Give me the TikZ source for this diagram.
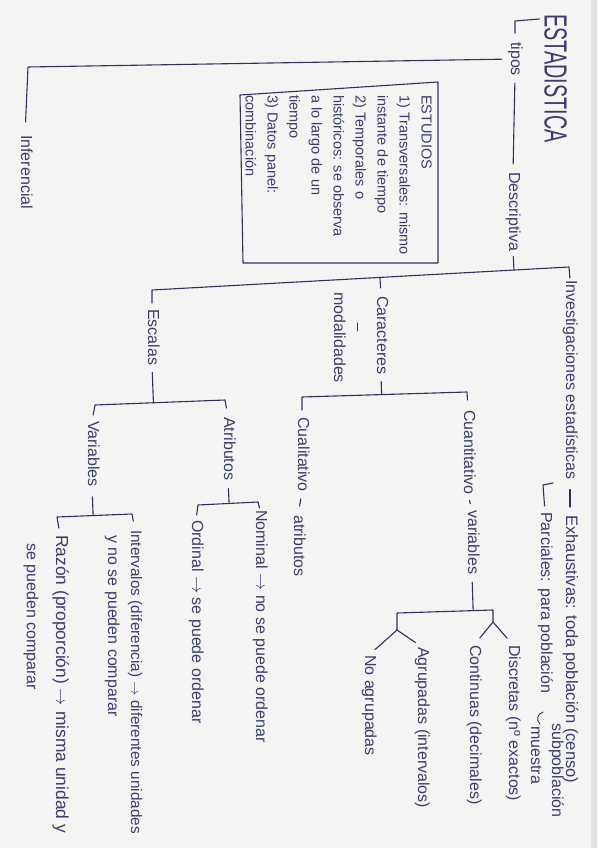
\documentclass[tikz,border=0pt]{standalone}
\usepackage{fontspec}
\setmainfont{Liberation Sans}
\usetikzlibrary{calc}
\definecolor{inkc}{RGB}{46,50,96}
\definecolor{txtc}{RGB}{58,62,108}
\definecolor{paper}{RGB}{244,244,242}
\definecolor{edge}{RGB}{226,226,224}
\begin{document}
\begin{tikzpicture}[x=1pt,y=-1pt,
  ink/.style={draw=inkc,line width=1.1pt,line cap=round,line join=round},
  lbl/.style={rotate=-90,anchor=west,inner sep=0pt,text=txtc,
    font=\fontsize{16}{19}\selectfont,text height=12pt,text depth=4pt},
  boxtxt/.style={rotate=-90,anchor=north west,inner sep=0pt,align=left,
    text=txtc,font=\fontsize{14.5}{22}\selectfont}
]
\useasboundingbox (0,0) rectangle (597,848);
\fill[paper] (0,0) rectangle (597,848);
\fill[edge] (591,0) rectangle (597,848);

% ---------- title and top level ----------
\node[lbl,font=\fontsize{32}{32}\selectfont,text height=23pt,text depth=0pt] (title) at (556,14) {\scalebox{0.62}[1]{ESTADISTICA}};
\node[lbl] (tipos) at (515,42) {tipos};
\node[lbl] (infer) at (25,135) {Inferencial};
\node[lbl] (desc) at (513,172) {Descriptiva};

\draw[ink] ($(title.south west)+(-5,5)$) -- (515,21) -- ($(tipos.west)+(0,-9)$);
\draw[ink, shorten <=5pt, shorten >=13pt] (tipos.south) -- (28,67) -- (infer.west);
\draw[ink, shorten <=7pt, shorten >=8pt] (tipos.east) -- (desc.west);

% ---------- box ----------
\draw[ink] (240,95) -- (438,82) -- (438,263) -- (243,263) -- cycle;
\node[boxtxt] (estud) at (432,95) {ESTUDIOS\\1) Transversales: mismo\\instante de tiempo\\2) Temporales o\\históricos: se observa\\a lo largo de un\\tiempo\\3) Datos panel:\\combinación};

% ---------- second level ----------
\node[lbl] (inv) at (570,280) {Investigaciones estadísticas};
\node[lbl,font=\fontsize{16.6}{19}\selectfont] (exh) at (570,515) {Exhaustivas: toda población (censo)};
\node[lbl] (parc) at (545,512) {Parciales: para población};
\node[lbl] (subp) at (556,723) {subpoblación};
\node[lbl] (mues) at (535,726) {muestra};
\node[lbl] (car) at (381,296) {Caracteres};
\node[lbl] (modal) at (338,292) {modalidades};
\node[lbl] (esc) at (152,309) {Escalas};

\coordinate (mbL) at (152,290);
\coordinate (mbR) at (569,267);
\draw[ink, shorten <=6pt, shorten >=2pt] (esc.west) -- (mbL) -- (mbR) -- (inv.west);
\draw[ink, shorten <=5pt] (desc.east) -- ($(mbL)!(desc.east)!(mbR)$);
\draw[ink, shorten <=8pt] (car.west) -- ($(mbL)!(car.west)!(mbR)$);
\draw[ink, shorten <=10pt, shorten >=8pt] (inv.east) -- (exh.west);
\draw[ink, shorten >=6pt] (553,483) -- (543,485) -- (parc.west);
\draw[ink, line width=0.9pt] (543,712) .. controls (537,714) and (536,720) .. (540,724);
\draw[ink, line width=0.9pt] (357,323) -- (357,331);

% ---------- caracteres ----------
\node[lbl] (cual) at (302,417) {Cualitativo};
\node[lbl] (atrib) at (298,515) {atributos};
\node[lbl] (cuant) at (468,410) {Cuantitativo};
\node[lbl] (vars) at (472,510) {variables};

\coordinate (cbL) at (302,397);
\coordinate (cbR) at (467,392);
\draw[ink, shorten <=7pt] (car.east) -- ($(cbL)!(car.east)!(cbR)$);
\draw[ink, shorten <=7pt, shorten >=10pt] (cual.west) -- (cbL) -- (cbR) -- (cuant.west);
\draw[ink, shorten <=7pt, shorten >=9pt] (cual.east) -- (atrib.west);
\draw[ink, shorten <=9pt, shorten >=10pt] (cuant.east) -- (vars.west);

% ---------- variables fork ----------
\node[lbl] (disc) at (513,645) {Discretas (nº exactos)};
\node[lbl] (cont) at (474,645) {Continuas (decimales)};
\node[lbl] (agr) at (422,647) {Agrupadas (intervalos)};
\node[lbl] (noagr) at (369,655) {No agrupadas};

\coordinate (fL) at (397,613);
\coordinate (fR) at (493,610);
\coordinate (fRj) at (493,622);
\coordinate (fLj) at (397,630);
\draw[ink, shorten <=8pt] (vars.east) -- ($(fL)!(vars.east)!(fR)$);
\draw[ink] (fLj) -- (fL) -- (fR) -- (fRj);
\draw[ink, shorten >=9pt] (fRj) -- (cont.west);
\draw[ink, shorten >=9pt] (fRj) -- (disc.west);
\draw[ink, shorten >=8pt] (fLj) -- (noagr.west);
\draw[ink, shorten >=8pt] (fLj) -- (agr.west);

% ---------- escalas ----------
\node[lbl] (vrb) at (92,421) {Variables};
\node[lbl] (atr) at (228,417) {Atributos};
\node[lbl] (nom) at (260,510) {Nominal \(\rightarrow\) no se puede ordenar};
\node[lbl] (ord) at (196,520) {Ordinal \(\rightarrow\) se puede ordenar};
\node[lbl,font=\fontsize{15.3}{19}\selectfont] (int1) at (135,530) {Intervalos (diferencia) \(\rightarrow\) diferentes unidades};
\node[lbl] (int2) at (112,535) {y no se pueden comparar};
\node[lbl,font=\fontsize{17.4}{19}\selectfont] (raz1) at (60,535) {Razón (proporción) \(\rightarrow\) misma unidad y};
\node[lbl] (raz2) at (31,543) {se pueden comparar};

\coordinate (ebL) at (95,405);
\coordinate (ebR) at (225,400);
\draw[ink, shorten <=7pt] (esc.east) -- ($(ebL)!(esc.east)!(ebR)$);
\draw[ink, shorten <=6pt, shorten >=9pt] (vrb.west) -- (ebL) -- (ebR) -- (atr.west);

\coordinate (vbL) at (57,517);
\coordinate (vbR) at (132,514);
\draw[ink, shorten <=10pt] (vrb.east) -- ($(vbL)!(vrb.east)!(vbR)$);
\draw[ink, shorten <=7pt, shorten >=9pt] (raz1.west) -- (vbL) -- (vbR) -- (int1.west);

\coordinate (abL) at (198,505);
\coordinate (abR) at (258,502);
\draw[ink, shorten <=8pt] (atr.east) -- ($(abL)!(atr.east)!(abR)$);
\draw[ink, shorten <=5pt, shorten >=2pt] (ord.west) -- (abL) -- (abR) -- (nom.west);
\end{tikzpicture}
\end{document}
